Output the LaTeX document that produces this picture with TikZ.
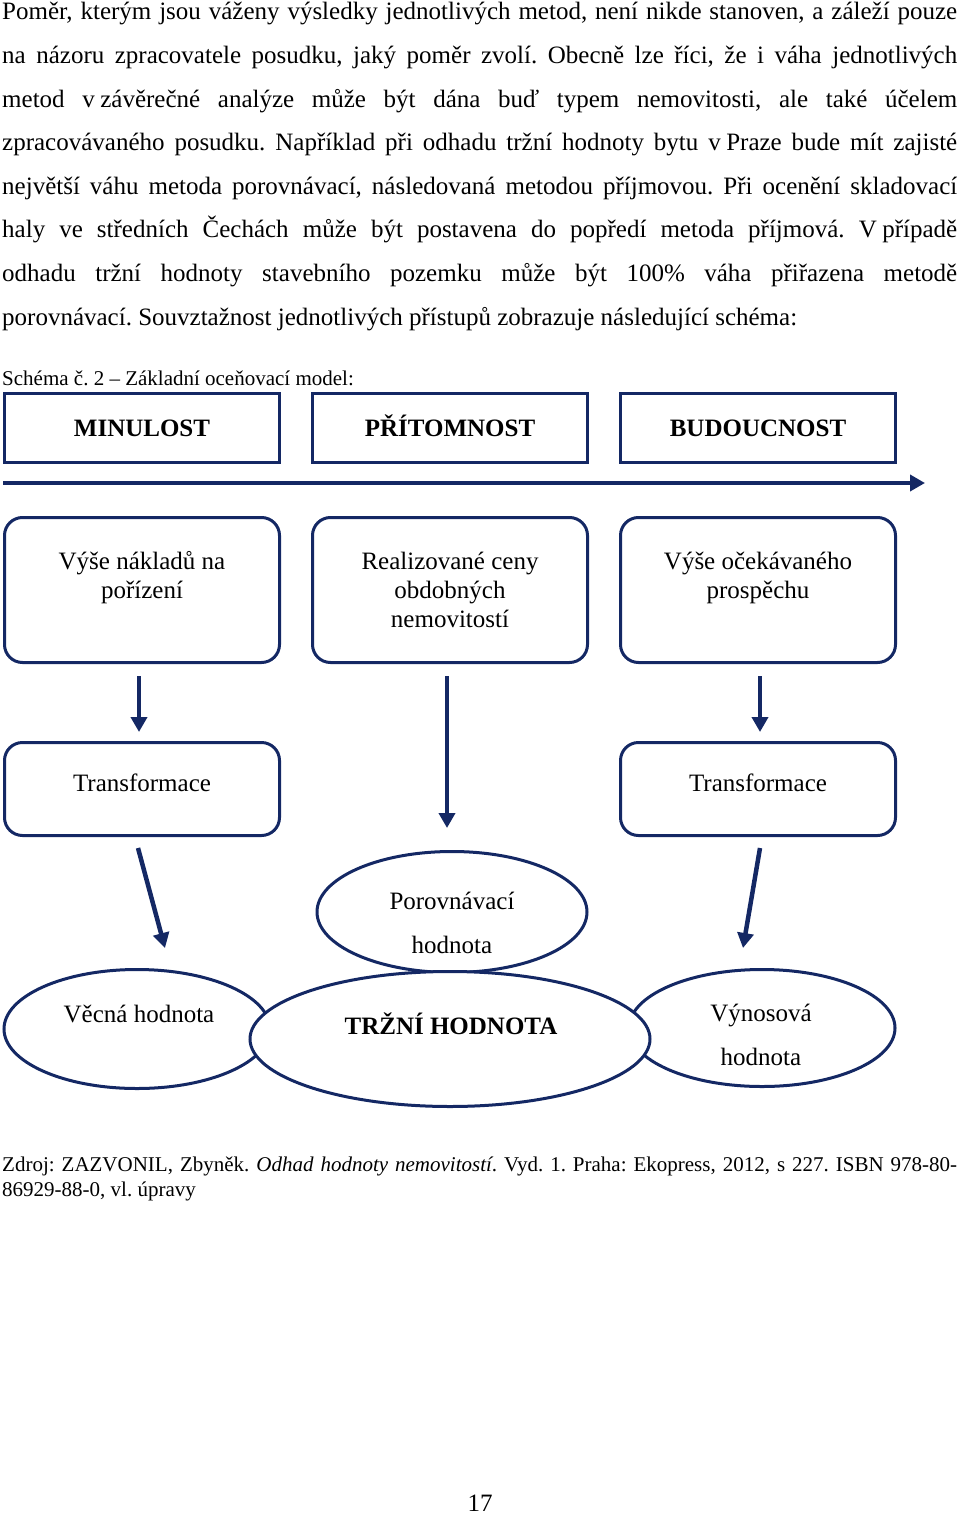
\documentclass[tikz,border=0pt]{standalone}
\usepackage{fontspec}
\setmainfont{Liberation Serif}
\usetikzlibrary{shapes.geometric,arrows.meta}
\definecolor{navy}{RGB}{20,40,100}
\newcommand{\nsp}{\hspace{0.22em}}
\tolerance=10000
\hyphenpenalty=10000
\frenchspacing

\begin{document}
\begin{tikzpicture}[x=1pt,y=-1pt]
\tikzstyle{every node}+=[inner sep=0pt]
\tikzstyle{hdr}=[draw=navy, line width=3pt, minimum width=275pt, minimum height=69pt, font=\fontsize{25}{29}\selectfont\bfseries, text height=17pt, text depth=0pt]
\tikzstyle{rbox}=[draw=navy, line width=3pt, rounded corners=18pt, minimum width=275pt]
\tikzstyle{oval}=[draw=navy, line width=3pt, ellipse, fill=white]
\tikzstyle{txt}=[text width=270pt, align=flush center, font=\fontsize{25}{29}\selectfont, anchor=base]
\tikzstyle{otxt}=[txt, font=\fontsize{25}{44}\selectfont]
\tikzstyle{arr}=[navy, line width=4.5pt, -{Triangle[length=15pt,width=16pt]}]
\tikzstyle{par}=[anchor=base west, text width=955pt, align=justify]

\useasboundingbox (0,0) rectangle (960,1514);

% text above the scheme
\node[par, font=\fontsize{25}{43.6}\selectfont] (para) at (2,20) {Poměr, kterým jsou váženy výsledky jednotlivých metod, není nikde stanoven, a záleží pouze\linebreak
na názoru zpracovatele posudku, jaký poměr zvolí. Obecně lze říci, že i váha jednotlivých\linebreak
metod v\nsp závěrečné analýze může být dána buď typem nemovitosti, ale také účelem\linebreak
zpracovávaného posudku. Například při odhadu tržní hodnoty bytu v\nsp Praze bude mít zajisté\linebreak
největší váhu metoda porovnávací, následovaná metodou příjmovou. Při ocenění skladovací\linebreak
haly ve středních Čechách může být postavena do popředí metoda příjmová. V\nsp případě\linebreak
odhadu tržní hodnoty stavebního pozemku může být 100\% váha přiřazena metodě\linebreak
porovnávací. Souvztažnost jednotlivých přístupů zobrazuje následující schéma:};

\node[anchor=base west, font=\fontsize{21}{24}\selectfont] (caption) at (2,385) {Schéma č. 2 -- Základní oceňovací model:};

% time line
\node[hdr] (past) at (142,428) {MINULOST};
\node[hdr] (present) at (450,428) {PŘÍTOMNOST};
\node[hdr] (future) at (758,428) {BUDOUCNOST};
\coordinate (t0) at (3,483);
\coordinate (t1) at (925,483);
\draw[arr] (t0) -- (t1);

% approaches
\node[rbox, minimum height=145pt] (cost) at (142,590) {};
\node[rbox, minimum height=145pt] (prices) at (450,590) {};
\node[rbox, minimum height=145pt] (profit) at (758,590) {};
\node[txt] (cost-t) at (142,569) {Výše nákladů na\\pořízení};
\node[txt] (prices-t) at (450,569) {Realizované ceny\\obdobných\\nemovitostí};
\node[txt] (profit-t) at (758,569) {Výše očekávaného\\prospěchu};

\node[rbox, minimum height=93pt] (trL) at (142,789) {};
\node[rbox, minimum height=93pt] (trR) at (758,789) {};
\node[txt] (trL-t) at (142,791) {Transformace};
\node[txt] (trR-t) at (758,791) {Transformace};

% values
\node[oval, minimum width=270pt, minimum height=121pt] (cmp) at (452,912) {};
\node[oval, minimum width=266pt, minimum height=119pt] (real) at (137,1029) {};
\node[oval, minimum width=266pt, minimum height=117pt] (yield) at (762,1028) {};
\node[oval, minimum width=400pt, minimum height=135pt] (market) at (450,1039) {};
\node[otxt] (cmp-t) at (452,909) {Porovnávací\\hodnota};
\node[otxt] (real-t) at (139,1022) {Věcná hodnota};
\node[otxt] (yield-t) at (761,1021) {Výnosová\\hodnota};
\node[otxt, font=\fontsize{25}{29}\selectfont\bfseries] (market-t) at (451,1034) {TRŽNÍ HODNOTA};

\draw[arr, shorten <=12pt, shorten >=9pt] ([xshift=-3pt]cost.south) -- ([xshift=-3pt]trL.north);
\draw[arr, shorten <=12pt, shorten >=22pt] ([xshift=-3pt]prices.south) -- ([xshift=-5pt]cmp.north);
\draw[arr, shorten <=12pt, shorten >=9pt] ([xshift=2pt]profit.south) -- ([xshift=2pt]trR.north);
\draw[arr] ([shift={(-4,11)}]trL.south) -- ([shift={(28,-20)}]real.north);
\draw[arr] ([shift={(2,11)}]trR.south) -- ([shift={(-19,-20)}]yield.north);

% source
\node[par, font=\fontsize{21}{25}\selectfont] (src) at (2,1171) {Zdroj: ZAZVONIL, Zbyněk. \textit{Odhad hodnoty nemovitostí}. Vyd. 1. Praha: Ekopress, 2012, s 227. ISBN 978-80-\linebreak 86929-88-0, vl. úpravy};

\node[anchor=base, font=\fontsize{25}{29}\selectfont] (pageno) at (480,1511) {17};
\end{tikzpicture}
\end{document}
